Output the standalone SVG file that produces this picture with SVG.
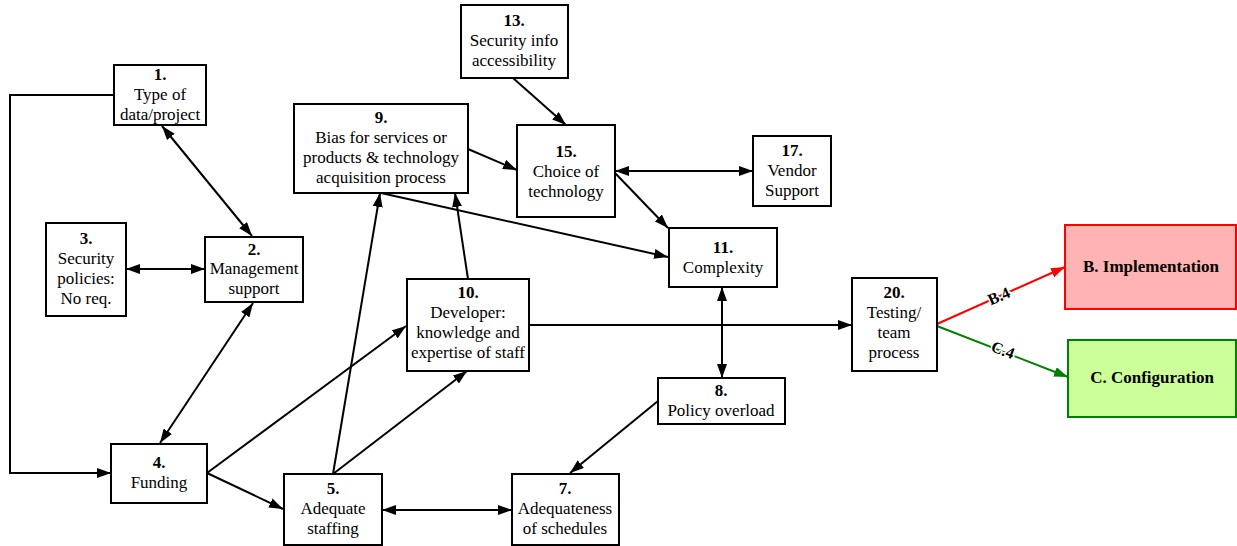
<svg xmlns="http://www.w3.org/2000/svg" width="1237" height="546" viewBox="0 0 1237 546" font-family="Liberation Serif, Times New Roman, serif">
  <style>
    .box { fill: #ffffff; stroke: #000000; stroke-width: 2; }
    .t { font-size: 17px; text-anchor: middle; fill: #000000; }
    .b { font-weight: bold; }
    .edge { fill: none; stroke: #000000; stroke-width: 2; }
    .one { marker-end: url(#ah); }
    .two { marker-start: url(#ah); marker-end: url(#ah); }
    .lbl { font-size: 16px; font-weight: bold; text-anchor: middle; fill: #000000; stroke: #ffffff; stroke-width: 3; paint-order: stroke; }
  </style>
  <defs>
    <marker id="ah" viewBox="0 0 14 10" refX="14" refY="5" markerWidth="14" markerHeight="10" markerUnits="userSpaceOnUse" orient="auto-start-reverse">
      <path d="M0,0 L14,5 L0,10 z" fill="#000000"/>
    </marker>
    <marker id="ahRed" viewBox="0 0 14 10" refX="14" refY="5" markerWidth="14" markerHeight="10" markerUnits="userSpaceOnUse" orient="auto">
      <path d="M0,0 L14,5 L0,10 z" fill="#ff0000"/>
    </marker>
    <marker id="ahGreen" viewBox="0 0 14 10" refX="14" refY="5" markerWidth="14" markerHeight="10" markerUnits="userSpaceOnUse" orient="auto">
      <path d="M0,0 L14,5 L0,10 z" fill="#008000"/>
    </marker>
  </defs>

  <!-- connectors -->
  <g id="connectors">
    <polyline class="edge one" points="114,95 10,95 10,473 111,473"/>
    <line class="edge two" x1="162" y1="126" x2="252" y2="236"/>
    <line class="edge two" x1="126" y1="269" x2="205" y2="269"/>
    <line class="edge two" x1="253" y1="303" x2="160" y2="443"/>
    <line class="edge one" x1="207" y1="473" x2="406" y2="326"/>
    <line class="edge one" x1="207" y1="473" x2="283" y2="509"/>
    <line class="edge one" x1="333" y1="474" x2="380" y2="193"/>
    <line class="edge one" x1="333" y1="474" x2="467" y2="371"/>
    <line class="edge one" x1="468" y1="279" x2="455" y2="193"/>
    <line class="edge one" x1="381" y1="193" x2="668" y2="257"/>
    <line class="edge one" x1="468" y1="149" x2="517" y2="170"/>
    <line class="edge one" x1="513" y1="78" x2="566" y2="125"/>
    <line class="edge two" x1="615" y1="171" x2="753" y2="171"/>
    <line class="edge one" x1="615" y1="173" x2="668" y2="228"/>
    <line class="edge two" x1="722" y1="287" x2="722" y2="378"/>
    <line class="edge one" x1="529" y1="325" x2="852" y2="325"/>
    <line class="edge one" x1="658" y1="401" x2="570" y2="473"/>
    <line class="edge two" x1="382" y1="510" x2="512" y2="510"/>
    <line x1="937" y1="324" x2="1065" y2="267" stroke="#ff0000" stroke-width="2" marker-end="url(#ahRed)"/>
    <line x1="937" y1="326" x2="1068" y2="377" stroke="#008000" stroke-width="2" marker-end="url(#ahGreen)"/>
    <text class="lbl" transform="translate(1001,301) rotate(-24)">B.4</text>
    <text class="lbl" transform="translate(1001,355) rotate(21)">C.4</text>
  </g>

  <!-- nodes -->
  <g id="n1">
    <rect class="box" x="114" y="65" width="92" height="60"/>
    <text class="t b" x="160" y="80">1.</text>
    <text class="t" x="160" y="100">Type of</text>
    <text class="t" x="160" y="120">data/project</text>
  </g>
  <g id="n13">
    <rect class="box" x="461" y="5" width="107" height="73"/>
    <text class="t b" x="514" y="26">13.</text>
    <text class="t" x="514" y="46">Security info</text>
    <text class="t" x="514" y="66">accessibility</text>
  </g>
  <g id="n9">
    <rect class="box" x="294" y="104" width="174" height="89"/>
    <text class="t b" x="381" y="123">9.</text>
    <text class="t" x="381" y="143">Bias for services or</text>
    <text class="t" x="381" y="163">products &amp; technology</text>
    <text class="t" x="381" y="183">acquisition process</text>
  </g>
  <g id="n15">
    <rect class="box" x="517" y="125" width="98" height="92"/>
    <text class="t b" x="566" y="157">15.</text>
    <text class="t" x="566" y="177">Choice of</text>
    <text class="t" x="566" y="197">technology</text>
  </g>
  <g id="n17">
    <rect class="box" x="753" y="136" width="78" height="70"/>
    <text class="t b" x="792" y="156">17.</text>
    <text class="t" x="792" y="176">Vendor</text>
    <text class="t" x="792" y="196">Support</text>
  </g>
  <g id="n11">
    <rect class="box" x="669" y="228" width="108" height="59"/>
    <text class="t b" x="723" y="253">11.</text>
    <text class="t" x="723" y="273">Complexity</text>
  </g>
  <g id="n3">
    <rect class="box" x="46" y="223" width="80" height="93"/>
    <text class="t b" x="86" y="244">3.</text>
    <text class="t" x="86" y="264">Security</text>
    <text class="t" x="86" y="284">policies:</text>
    <text class="t" x="86" y="304">No req.</text>
  </g>
  <g id="n2">
    <rect class="box" x="205" y="237" width="98" height="65"/>
    <text class="t b" x="254" y="255">2.</text>
    <text class="t" x="254" y="274">Management</text>
    <text class="t" x="254" y="294">support</text>
  </g>
  <g id="n10">
    <rect class="box" x="407" y="279" width="122" height="92"/>
    <text class="t b" x="468" y="298">10.</text>
    <text class="t" x="468" y="318">Developer:</text>
    <text class="t" x="468" y="338">knowledge and</text>
    <text class="t" x="468" y="358">expertise of staff</text>
  </g>
  <g id="n8">
    <rect class="box" x="658" y="378" width="127" height="46"/>
    <text class="t b" x="721" y="396">8.</text>
    <text class="t" x="721" y="416">Policy overload</text>
  </g>
  <g id="n4">
    <rect class="box" x="111" y="444" width="96" height="59"/>
    <text class="t b" x="159" y="468">4.</text>
    <text class="t" x="159" y="488">Funding</text>
  </g>
  <g id="n5">
    <rect class="box" x="284" y="474" width="98" height="71"/>
    <text class="t b" x="333" y="494">5.</text>
    <text class="t" x="333" y="514">Adequate</text>
    <text class="t" x="333" y="534">staffing</text>
  </g>
  <g id="n7">
    <rect class="box" x="512" y="474" width="107" height="71"/>
    <text class="t b" x="565" y="494">7.</text>
    <text class="t" x="565" y="514">Adequateness</text>
    <text class="t" x="565" y="534">of schedules</text>
  </g>
  <g id="n20">
    <rect class="box" x="852" y="278" width="85" height="93"/>
    <text class="t b" x="894" y="298">20.</text>
    <text class="t" x="894" y="318">Testing/</text>
    <text class="t" x="894" y="338">team</text>
    <text class="t" x="894" y="358">process</text>
  </g>
  <g id="nB">
    <rect x="1065" y="225" width="171" height="84" fill="#ffb3b3" stroke="#ff0000" stroke-width="2"/>
    <text class="t b" x="1151" y="272">B. Implementation</text>
  </g>
  <g id="nC">
    <rect x="1068" y="340" width="168" height="77" fill="#ccff99" stroke="#008000" stroke-width="2"/>
    <text class="t b" x="1152" y="383">C. Configuration</text>
  </g>
</svg>
